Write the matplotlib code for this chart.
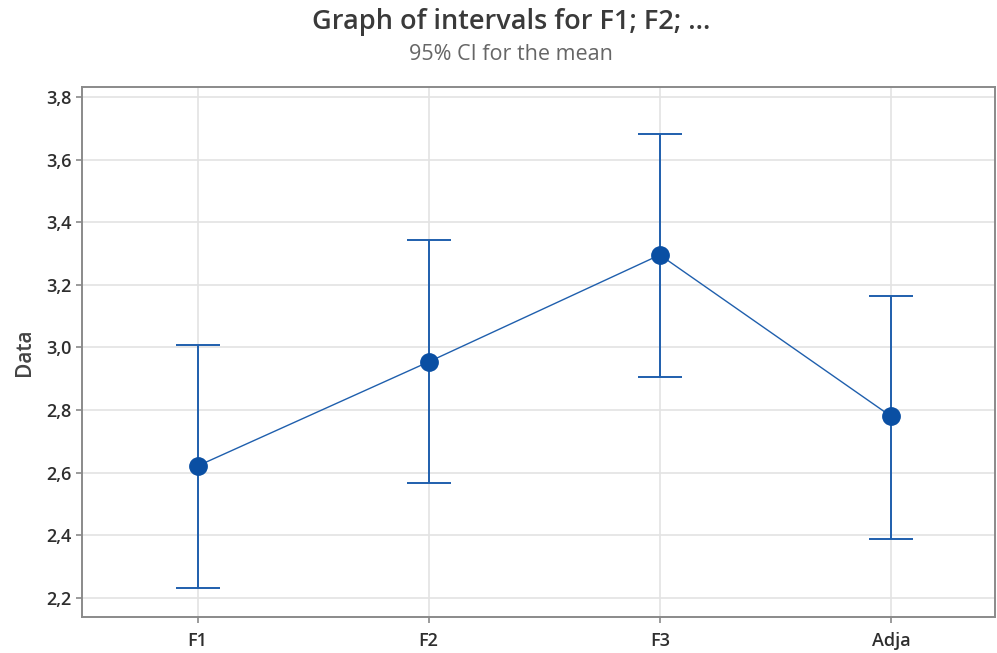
import matplotlib.pyplot as plt
from matplotlib.ticker import FuncFormatter

# data (95% CI for the mean)
groups = ['F1', 'F2', 'F3', 'Adja']
means = [2.621, 2.954, 3.296, 2.780]
upper = [3.008, 3.343, 3.684, 3.165]
lower = [2.230, 2.565, 2.905, 2.388]
y_ticks = [2.2, 2.4, 2.6, 2.8, 3.0, 3.2, 3.4, 3.6, 3.8]

plt.rcParams['font.family'] = ['Open Sans', 'DejaVu Sans']

blue = '#1f5fad'
dark_blue = '#0a4fa3'

fig = plt.figure(figsize=(9.97, 6.53), dpi=100)
ax = fig.add_axes([0.0822, 0.0551, 0.9158, 0.8117])

x = list(range(len(groups)))
err_lo = [m - l for m, l in zip(means, lower)]
err_hi = [u - m for m, u in zip(means, upper)]

ax.errorbar(x, means, yerr=[err_lo, err_hi], fmt='none', ecolor=blue,
            elinewidth=1.4, capsize=16, capthick=1.4, zorder=3)
ax.plot(x, means, color=blue, linewidth=1.0, zorder=3)
ax.plot(x, means, 'o', color=dark_blue, markersize=12.5, zorder=4)

ax.set_xlim(-0.5, 3.45)
ax.set_ylim(2.138, 3.833)
ax.set_xticks(x)
ax.set_xticklabels(groups)
ax.set_yticks(y_ticks)
ax.yaxis.set_major_formatter(FuncFormatter(lambda v, p: f'{v:.1f}'.replace('.', ',')))

ax.grid(True, color='#e3e3e3', linewidth=1.2)
ax.set_axisbelow(True)
for s in ax.spines.values():
    s.set_color('#8a8a8a')
    s.set_linewidth(1.4)

ax.tick_params(axis='both', colors='#8a8a8a', labelcolor='#2e2e2e',
               labelsize=13, length=4, width=1.2)
ax.tick_params(axis='x', pad=7)
for lbl in ax.get_xticklabels() + ax.get_yticklabels():
    lbl.set_fontweight('semibold')
ax.set_ylabel('Data', fontsize=15, fontweight='semibold', color='#444444', labelpad=8)

fig.text(511 / 997, 1 - 22 / 653, 'Graph of intervals for F1; F2; ...',
         ha='center', va='center', fontsize=19.5, fontweight='semibold', color='#3a3a3a')
fig.text(511 / 997, 1 - 55 / 653, '95% CI for the mean',
         ha='center', va='center', fontsize=15.5, color='#666666')

fig.savefig('out.png', dpi=100)
